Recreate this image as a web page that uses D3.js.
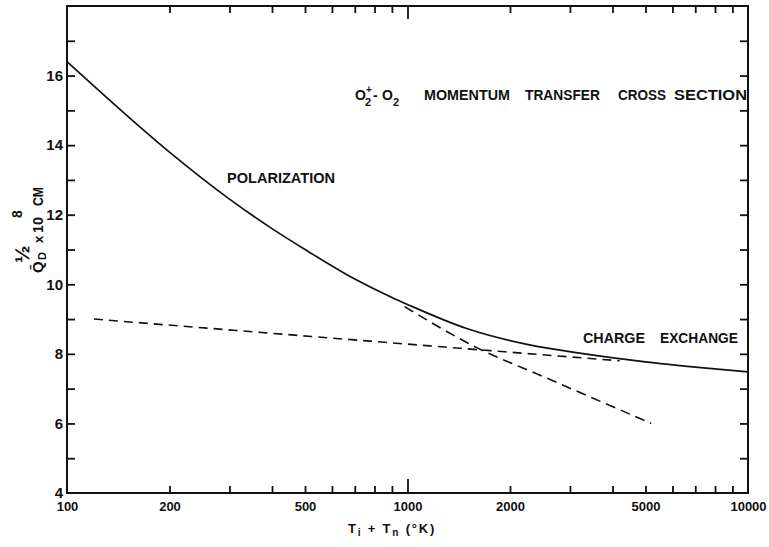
<!DOCTYPE html>
<html>
<head>
<meta charset="utf-8">
<script src="https://cdn.jsdelivr.net/npm/d3@7"></script>
<style>
  body { margin: 0; background: #fff; }
  svg text { font-family: "Liberation Sans", "DejaVu Sans", sans-serif; font-weight: bold; fill: #111; }
</style>
</head>
<body>
<svg id="chart"></svg>
<script>
var W = 769, H = 547;

// data
var tempK = [100, 150, 200, 300, 400, 500, 700, 900, 1000, 1500, 2300, 3200, 5000, 7000, 10000];
var totalQ = [16.4, 14.85, 13.8, 12.45, 11.6, 11.0, 10.15, 9.62, 9.42, 8.72, 8.25, 8.02, 7.77, 7.62, 7.48];

var polTemp = [980, 1620, 2500, 5200];
var polQ = [9.36, 8.15, 7.35, 6.0];

var cxTemp = [120, 1000, 4200];
var cxQ = [9.0, 8.28, 7.8];

var xLabels = [100, 200, 500, 1000, 2000, 5000, 10000];
var xMinor = [200, 300, 400, 500, 600, 700, 800, 900, 2000, 3000, 4000, 5000, 6000, 7000, 8000, 9000];
var xMajor = [1000];
var yLabels = [4, 6, 8, 10, 12, 14, 16];
var yTicks = [5, 6, 7, 8, 9, 10, 11, 12, 13, 14, 15, 16, 17];

var pLeft = 67, pRight = 748, pTop = 6, pBottom = 493;

var svg = d3.select('#chart').attr('width', W).attr('height', H);

var x = d3.scaleLog().domain([100, 10000]).range([pLeft, pRight]);
var y = d3.scaleLinear().domain([4, 18]).range([pBottom, pTop]);

function styleAxis(g) {
    g.select('.domain').remove();
    g.selectAll('line').attr('stroke', '#111').attr('stroke-width', 1.8);
}

// ticks, all pointing inward
svg.append('g').attr('transform', 'translate(0,' + pBottom + ')')
    .call(d3.axisBottom(x).tickValues(xMinor).tickSize(-7).tickFormat(''))
    .call(styleAxis);
svg.append('g').attr('transform', 'translate(0,' + pBottom + ')')
    .call(d3.axisBottom(x).tickValues(xMajor).tickSize(-14).tickFormat(''))
    .call(styleAxis);
svg.append('g').attr('transform', 'translate(0,' + pTop + ')')
    .call(d3.axisTop(x).tickValues(xMinor).tickSize(-7).tickFormat(''))
    .call(styleAxis);
svg.append('g').attr('transform', 'translate(0,' + pTop + ')')
    .call(d3.axisTop(x).tickValues(xMajor).tickSize(-13).tickFormat(''))
    .call(styleAxis);
svg.append('g').attr('transform', 'translate(' + pLeft + ',0)')
    .call(d3.axisLeft(y).tickValues(yTicks).tickSize(-8).tickFormat(''))
    .call(styleAxis);
svg.append('g').attr('transform', 'translate(' + pRight + ',0)')
    .call(d3.axisRight(y).tickValues(yTicks).tickSize(-8).tickFormat(''))
    .call(styleAxis);

// tick labels
var xl = svg.append('g').attr('transform', 'translate(0,' + pBottom + ')')
    .call(d3.axisBottom(x).tickValues(xLabels).tickSize(0).tickPadding(9).tickFormat(d3.format('d')));
xl.select('.domain').remove();
xl.selectAll('text').attr('font-size', 13).attr('font-family', null);

var yl = svg.append('g').attr('transform', 'translate(' + pLeft + ',0)')
    .call(d3.axisLeft(y).tickValues(yLabels).tickSize(0).tickPadding(4).tickFormat(d3.format('d')));
yl.select('.domain').remove();
yl.selectAll('text').attr('font-size', 15).attr('font-family', null);

// frame
svg.append('rect')
    .attr('x', pLeft).attr('y', pTop)
    .attr('width', pRight - pLeft).attr('height', pBottom - pTop)
    .attr('fill', 'none').attr('stroke', '#111').attr('stroke-width', 2);

// curves
var line = d3.line().curve(d3.curveMonotoneX);

svg.append('path')
    .attr('d', line(tempK.map(function (t, i) { return [x(t), y(totalQ[i])]; })))
    .attr('fill', 'none').attr('stroke', '#111').attr('stroke-width', 1.7);

svg.append('path')
    .attr('d', line(polTemp.map(function (t, i) { return [x(t), y(polQ[i])]; })))
    .attr('fill', 'none').attr('stroke', '#111').attr('stroke-width', 1.6)
    .style('stroke-dasharray', '10,6');

svg.append('path')
    .attr('d', line(cxTemp.map(function (t, i) { return [x(t), y(cxQ[i])]; })))
    .attr('fill', 'none').attr('stroke', '#111').attr('stroke-width', 1.6)
    .style('stroke-dasharray', '9,6');

// labels in plot
function word(px, py, size, len, str) {
    return svg.append('text').attr('x', px).attr('y', py).attr('font-size', size)
        .attr('textLength', len).attr('lengthAdjust', 'spacingAndGlyphs').text(str);
}
word(227, 183, 14, 108, 'POLARIZATION');
word(583, 343, 14, 62, 'CHARGE');
word(660, 343, 14, 78, 'EXCHANGE');

// title
var t = svg.append('text').attr('y', 100).attr('font-size', 14);
t.append('tspan').attr('x', 355).text('O');
t.append('tspan').attr('x', 365).attr('dy', 6).attr('font-size', 11).text('2');
t.append('tspan').attr('x', 366).attr('dy', -13).attr('font-size', 10).text('+');
t.append('tspan').attr('x', 373).attr('dy', 7).text('-');
t.append('tspan').attr('x', 382).text('O');
t.append('tspan').attr('x', 393).attr('dy', 6).attr('font-size', 11).text('2');
word(424, 100, 14, 86, 'MOMENTUM');
word(525, 100, 14, 75, 'TRANSFER');
word(618, 100, 14, 48, 'CROSS');
word(674, 100, 14, 73, 'SECTION');

// x axis title
var xt = svg.append('text').attr('x', 348).attr('y', 533).attr('font-size', 13).attr('letter-spacing', 1.8);
xt.append('tspan').text('T');
xt.append('tspan').attr('font-size', 10).attr('dy', 3).text('i');
xt.append('tspan').attr('dy', -3).text(' + T');
xt.append('tspan').attr('font-size', 10).attr('dy', 3).text('n');
xt.append('tspan').attr('dy', -3).text(' (°K)');

// y axis title, rotated
var yg = svg.append('g').attr('transform', 'translate(43,273) rotate(-90)');
yg.append('text').attr('x', 0).attr('y', 0).attr('font-size', 15).text('Q\u0304');
yg.append('text').attr('x', 13).attr('y', 3).attr('font-size', 11).text('D');
yg.append('text').attr('x', 10).attr('y', -14).attr('font-size', 21).text('\u00BD');
yg.append('text').attr('x', 30).attr('y', 0).attr('font-size', 13).text('x');
yg.append('text').attr('x', 40).attr('y', 0).attr('font-size', 15).attr('textLength', 16)
    .attr('lengthAdjust', 'spacingAndGlyphs').text('10');
yg.append('text').attr('x', 55).attr('y', -21).attr('font-size', 14).text('8');
yg.append('text').attr('x', 67).attr('y', 0).attr('font-size', 14).attr('textLength', 19)
    .attr('lengthAdjust', 'spacingAndGlyphs').text('CM');
</script>
</body>
</html>
